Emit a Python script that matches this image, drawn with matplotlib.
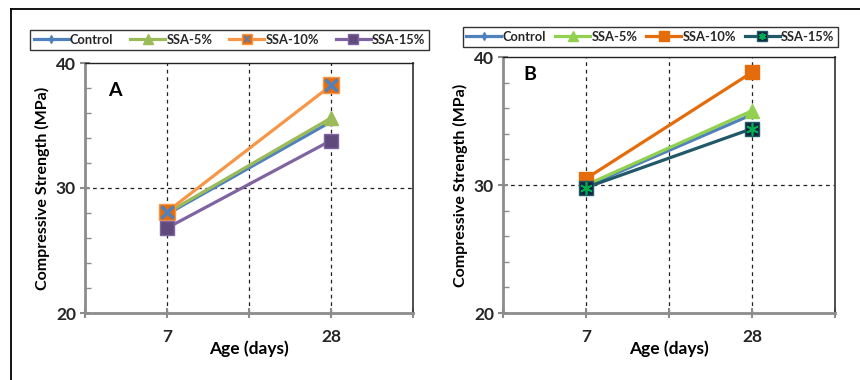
import matplotlib.pyplot as plt
from matplotlib.lines import Line2D
from matplotlib.legend_handler import HandlerTuple
from matplotlib.ticker import MultipleLocator, FixedLocator

plt.rcParams['font.family'] = ['Lato', 'DejaVu Sans']

# data
ages = [7, 28]
series = ['Control', 'SSA-5%', 'SSA-10%', 'SSA-15%']
vals_a = {
    'Control': [27.9, 35.3],
    'SSA-5%': [28.0, 35.6],
    'SSA-10%': [28.1, 38.2],
    'SSA-15%': [26.8, 33.8],
}
vals_b = {
    'Control': [29.9, 35.5],
    'SSA-5%': [30.0, 35.8],
    'SSA-10%': [30.5, 38.8],
    'SSA-15%': [29.8, 34.4],
}
xgrid = [-3.5, 7, 17.5, 28, 38.5]

fig = plt.figure(figsize=(8.6, 3.8), dpi=100)

# outer frame
fig.add_artist(Line2D([11/860, 11/860], [0, 1 - 9/380], color='black', lw=1.3))
fig.add_artist(Line2D([11/860, 1], [1 - 9/380, 1 - 9/380], color='black', lw=1.3))


def draw_panel(rect, vals, styles, letter, letter_pos, legend_rect, colsp):
    ax = fig.add_axes(rect)
    handles = []
    for name in series:
        st = styles[name]
        ax.plot(ages, vals[name], color=st['lc'], lw=2.3, marker=st['m'],
                ms=st['ms'], mfc=st['mfc'], mec=st['mec'], mew=1, zorder=3)
        if st.get('over'):
            ax.plot(ages, vals[name], ls='none', marker=st['over'], ms=st['oms'],
                    mec=st['oc'], mew=st['ow'], zorder=4)
            lh = Line2D([], [], color=st['lc'], lw=2.3, marker=st['m'], ms=7,
                        mfc=st['mfc'], mec=st['mec'])
            oh = Line2D([], [], ls='none', marker=st['over'], ms=5, mec=st['oc'], mew=1.2)
            h = (lh, oh)
        else:
            h = Line2D([], [], color=st['lc'], lw=2.3, marker=st['m'],
                       ms=min(st['ms'], 7), mfc=st['mfc'], mec=st['mec'])
        handles.append(h)

    ax.set_xlim(xgrid[0], xgrid[-1])
    ax.set_ylim(20, 40)
    ax.xaxis.set_major_locator(FixedLocator(xgrid))
    ax.set_xticklabels(['', '7', '', '28', ''])
    ax.yaxis.set_major_locator(MultipleLocator(10))
    ax.yaxis.set_minor_locator(MultipleLocator(2))
    for v in xgrid[1:-1]:
        ax.axvline(v, color='#222222', lw=0.9, ls=(0, (3, 3)), zorder=1)
    ax.axhline(30, color='#222222', lw=0.9, ls=(0, (3, 3)), zorder=1)

    for s in ['left', 'bottom']:
        ax.spines[s].set_color('#8c8c8c')
        ax.spines[s].set_linewidth(2)
    ax.spines['right'].set_color('#404040')
    ax.spines['right'].set_linewidth(1.3)
    ax.spines['top'].set_color('#222222')
    ax.spines['top'].set_linewidth(1)

    ax.tick_params(axis='both', which='major', direction='inout', length=7, width=1.5,
                   color='#8c8c8c', labelsize=12.5, pad=3)
    ax.tick_params(axis='y', which='minor', direction='in', length=4, width=1, color='#8c8c8c')
    ax.tick_params(axis='x', which='major', pad=8)
    for lb in ax.get_xticklabels() + ax.get_yticklabels():
        lb.set_fontweight('bold')
        lb.set_color('#262626')

    ax.set_xlabel('Age (days)', fontsize=12.5, fontweight='bold', labelpad=-3)
    ax.set_ylabel('Compressive Strength (MPa)', fontsize=11.5, fontweight='bold', labelpad=4)
    ax.text(letter_pos[0], letter_pos[1], letter, transform=ax.transAxes,
            fontsize=14, fontweight='bold', va='center')

    cx = legend_rect[0] + legend_rect[2] / 2
    cy = legend_rect[1] + legend_rect[3] / 2
    leg = fig.legend(handles, series, loc='center', ncol=4,
                     bbox_to_anchor=(cx, cy), frameon=True, fancybox=False,
                     fontsize=9.3, handlelength=2.7, handletextpad=0.1, columnspacing=colsp,
                     borderpad=0.3, borderaxespad=0,
                     handler_map={tuple: HandlerTuple(ndivide=1)})
    leg.get_frame().set_edgecolor('black')
    leg.get_frame().set_linewidth(1)
    for t in leg.get_texts():
        t.set_fontweight('bold')
        t.set_color('#262626')
    return ax


styles_a = {
    'Control': dict(lc='#4F81BD', m='d', ms=4, mfc='#4F81BD', mec='#4F81BD'),
    'SSA-5%': dict(lc='#9BBB59', m='^', ms=10, mfc='#9BBB59', mec='#9BBB59'),
    'SSA-10%': dict(lc='#F79646', m='s', ms=11, mfc='#E46C0A', mec='#F79646',
                    over='x', oms=9, oc='#4F81BD', ow=2.5),
    'SSA-15%': dict(lc='#8064A2', m='s', ms=10, mfc='#604A7B', mec='#8064A2'),
}
styles_b = {
    'Control': dict(lc='#4F81BD', m='d', ms=4, mfc='#4F81BD', mec='#4F81BD'),
    'SSA-5%': dict(lc='#92D050', m='^', ms=10, mfc='#92D050', mec='#92D050'),
    'SSA-10%': dict(lc='#E46C0A', m='s', ms=10, mfc='#E46C0A', mec='#E46C0A'),
    'SSA-15%': dict(lc='#215968', m='s', ms=10, mfc='#10253F', mec='#215968',
                    over=(6, 2, 0), oms=9, oc='#00B050', ow=1.2),
}

W, H = 860, 380
draw_panel([85/W, 1 - 313/H, 328/W, 250/H], vals_a, styles_a, 'A', (0.07, 0.89),
           (30/W, 1 - 52/H, 399/W, 24/H), 1.3)
draw_panel([503/W, 1 - 313/H, 332/W, 256/H], vals_b, styles_b, 'B', (0.06, 0.93),
           (463/W, 1 - 49/H, 375/W, 24/H), 0.7)

fig.savefig('out.png', dpi=100)
